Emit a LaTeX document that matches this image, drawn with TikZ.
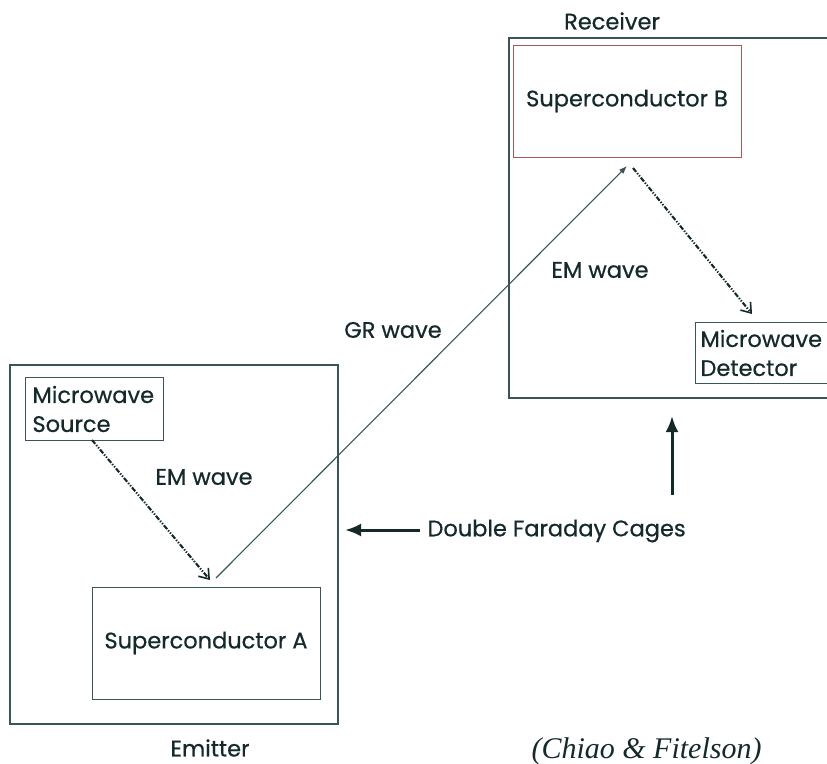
\documentclass[tikz,border=0pt]{standalone}
\usepackage{fontspec}
\setmainfont{Poppins}[FakeBold = 0.6]
\newfontfamily\handfont{Liberation Serif}
\usetikzlibrary{calc}
\usetikzlibrary{arrows.meta}

\definecolor{inkdark}{HTML}{15292B}
\definecolor{linegray}{HTML}{3A5556}
\definecolor{boxred}{HTML}{A85858}

\tikzset{
    cagebox/.style = {draw = linegray, line width = 1.1pt, minimum width = #1},
    partbox/.style = {draw = linegray, line width = 1pt},
    lbl/.style = {text = inkdark, font = \fontsize{22.5}{27}\selectfont},
    emwave/.style = {draw = inkdark, line width = 2.1pt,
        dash pattern = on 5pt off 1.6pt on 1.3pt off 1.6pt on 1.3pt off 1.6pt,
        -{Straight Barb[length = 9pt, width = 13pt, line width = 1.6pt]}},
    grwave/.style = {draw = linegray, line width = 1.1pt,
        -{Latex[length = 8pt, width = 6pt]}},
    bigarrow/.style = {draw = inkdark, line width = 3pt,
        -{Latex[length = 16pt, width = 13pt]}}
}

\begin{document}
\begin{tikzpicture}[x = 1pt, y = -1pt]
    \useasboundingbox (0,0) rectangle (827,763);
    \clip (0,0) rectangle (827,763);

    % cages
    \node [cagebox = 328pt, minimum height = 359pt] (emitter) at (174,544.5) {};
    \node [cagebox = 331pt, minimum height = 360pt] (receiver) at (674.5,218) {};
    \node [lbl] (recvlbl) at (612,21) {Receiver};
    \node [lbl] (emitlbl) at (210,748) {Emitter};

    % emitter side
    \node [partbox, lbl, anchor = north west, minimum width = 136pt, minimum height = 63pt,
        inner xsep = 7pt, inner ysep = 4pt, text width = 124pt, align = left,
        font = \fontsize{22.5}{29}\selectfont] (source) at (25,377) {Microwave\\Source};
    \node [partbox, lbl, minimum width = 228pt, minimum height = 112pt] (scA) at (206,643) {Superconductor A};

    % receiver side
    \node [partbox, draw = boxred, lbl, minimum width = 228pt, minimum height = 112pt] (scB) at (627,101) {Superconductor B};
    \node [partbox, lbl, anchor = north west, minimum width = 150pt, minimum height = 61pt,
        inner xsep = 5pt, inner ysep = 3pt, text width = 140pt, align = left,
        font = \fontsize{22.5}{29}\selectfont] (detector) at (695,322) {Microwave\\Detector};

    % wave ends
    \coordinate (S1) at (92,440);
    \coordinate (E1) at (210,580);
    \coordinate (G0) at (216,578);
    \coordinate (G1) at (627,166);
    \coordinate (S2) at (633,168);
    \coordinate (E2) at (752,314);

    \draw [emwave] (S1) -- (E1);
    \draw [grwave] (G0) -- (G1);
    \draw [emwave] (S2) -- (E2);

    \node [lbl] (em1) at (204,477) {EM wave};
    \node [lbl] (em2) at (600,270) {EM wave};
    \node [lbl] (gr) at (393,330) {GR wave};

    % double cages pointer
    \node [lbl, anchor = west] (cages) at (424,531) {Double Faraday Cages};
    \coordinate (P1) at (420,530);
    \coordinate (P2) at (345,530);
    \coordinate (Q1) at (672,495);
    \coordinate (Q2) at (672,416);
    \draw [bigarrow] (P1) -- (P2);
    \draw [bigarrow] (Q1) -- (Q2);

    \node [anchor = base west, text = inkdark, font = \handfont\itshape\fontsize{30}{34}\selectfont] (cite) at (528,758) {(Chiao \& Fitelson)};
\end{tikzpicture}
\end{document}
